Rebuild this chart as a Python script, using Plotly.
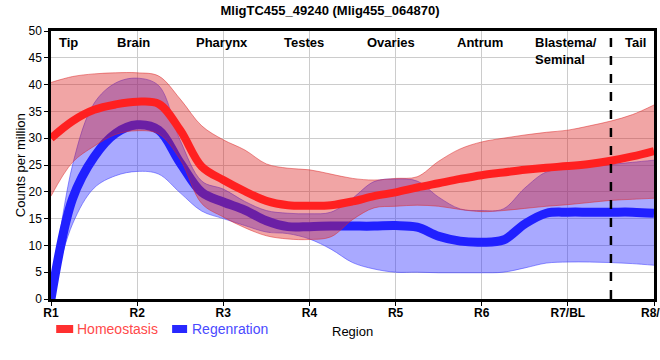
import plotly.graph_objects as go

# positions along body (R1 = 1 ... R8 = 8)
x_pos = [1.0, 1.25, 1.5, 1.75, 2.0, 2.25, 2.5, 2.75, 3.0, 3.25, 3.5, 3.75, 4.0, 4.25, 4.5,
         4.75, 5.0, 5.25, 5.5, 5.75, 6.0, 6.25, 6.5, 6.75, 7.0, 7.25, 7.5, 7.75, 8.0]

homeo_mean = [30.0, 33.2, 35.3, 36.3, 36.8, 36.4, 31.5, 24.7, 22.2, 20.1, 18.3, 17.5, 17.4, 17.5, 18.2,
              19.2, 19.9, 20.8, 21.6, 22.4, 23.1, 23.6, 24.1, 24.5, 24.8, 25.2, 25.8, 26.6, 27.6]
homeo_upper = [40.4, 41.5, 42.0, 42.2, 42.2, 41.6, 37.3, 32.3, 29.7, 27.8, 25.2, 24.4, 24.1, 23.3, 22.5,
               22.2, 22.5, 22.8, 25.7, 28.0, 29.3, 30.0, 30.6, 31.1, 31.5, 32.3, 33.2, 34.4, 36.2]
homeo_lower = [19.2, 25.5, 28.5, 30.7, 31.4, 30.8, 26.0, 17.8, 15.3, 13.3, 11.8, 11.2, 11.1, 11.6, 14.8,
               17.0, 17.3, 17.5, 17.3, 16.7, 16.3, 16.5, 16.9, 17.3, 17.6, 18.0, 18.4, 18.6, 18.8]

regen_mean = [0.0, 18.7, 26.5, 30.9, 32.5, 31.5, 25.4, 19.9, 18.1, 16.6, 14.6, 13.5, 13.5, 13.6, 13.6,
              13.6, 13.7, 13.4, 11.7, 10.8, 10.6, 11.0, 14.0, 16.0, 16.2, 16.2, 16.2, 16.2, 16.0]
regen_upper = [0.0, 25.0, 36.5, 40.3, 41.2, 39.8, 29.6, 22.0, 20.5, 18.2, 16.5, 16.0, 15.9, 16.2, 18.8,
               21.9, 22.4, 22.0, 19.0, 16.8, 16.5, 16.8, 20.7, 23.7, 24.3, 24.7, 25.1, 25.5, 25.9]
regen_lower = [0.0, 14.0, 20.7, 23.0, 23.8, 23.3, 19.8, 16.4, 15.0, 13.7, 12.5, 12.2, 11.2, 9.3, 6.8,
               5.6, 5.0, 5.0, 4.9, 4.9, 4.9, 5.0, 5.8, 6.7, 6.9, 6.9, 6.8, 6.6, 6.3]

tick_vals = [1, 2, 3, 4, 5, 6, 7, 8]
tick_text = ["R1", "R2", "R3", "R4", "R5", "R6", "R7/BL", "R8/T"]

region_names = ["Tip", "Brain", "Pharynx", "Testes", "Ovaries", "Antrum", "Blastema/<br>Seminal", "Tail"]
region_x = [1.2, 1.96, 2.98, 3.94, 4.95, 5.98, 6.6, 7.78]
region_anchor = ["center", "center", "center", "center", "center", "center", "left", "center"]

BOLD = "Liberation Sans, Arial, sans-serif"

fig = go.Figure()

# regeneration band
fig.add_trace(go.Scatter(x=x_pos, y=regen_lower, mode="lines", line=dict(color="rgba(60,60,255,0.55)", width=1, shape="spline"),
                         showlegend=False, hoverinfo="skip"))
fig.add_trace(go.Scatter(x=x_pos, y=regen_upper, mode="lines", line=dict(color="rgba(60,60,255,0.55)", width=1, shape="spline"),
                         fill="tonexty", fillcolor="rgba(40,40,255,0.4)", showlegend=False, hoverinfo="skip"))
fig.add_trace(go.Scatter(x=x_pos, y=regen_mean, mode="lines", line=dict(color="#2020ff", width=9, shape="spline"),
                         name="Regenration", showlegend=False))
# homeostasis band
fig.add_trace(go.Scatter(x=x_pos, y=homeo_lower, mode="lines", line=dict(color="rgba(220,40,40,0.5)", width=1, shape="spline"),
                         showlegend=False, hoverinfo="skip"))
fig.add_trace(go.Scatter(x=x_pos, y=homeo_upper, mode="lines", line=dict(color="rgba(220,40,40,0.5)", width=1, shape="spline"),
                         fill="tonexty", fillcolor="rgba(220,30,30,0.4)", showlegend=False, hoverinfo="skip"))
fig.add_trace(go.Scatter(x=x_pos, y=homeo_mean, mode="lines", line=dict(color="#ff2020", width=8, shape="spline"),
                         name="Homeostasis", showlegend=False))

# dashed divider
fig.add_shape(type="line", xref="x", yref="y", x0=7.5, x1=7.5, y0=0, y1=50,
              line=dict(color="black", width=2.5, dash="dash"), layer="above")

for name, xv, anc in zip(region_names, region_x, region_anchor):
    fig.add_annotation(x=xv, y=49.7, xref="x", yref="y", text="<b>" + name + "</b>", showarrow=False,
                       xanchor=anc, yanchor="top", align="left",
                       font=dict(family=BOLD, size=13, color="black"))

# manual legend
W = 603.4
H = 268.0
def px2x(p):
    return (p - 50.8) / W
def py2y(p):
    return (299 - p) / H

fig.add_shape(type="rect", xref="paper", yref="paper", x0=px2x(56), x1=px2x(73), y0=py2y(333), y1=py2y(325),
              fillcolor="#ff3030", line=dict(width=0))
fig.add_annotation(xref="paper", yref="paper", x=px2x(75), y=py2y(329), text="Homeostasis", showarrow=False,
                   xanchor="left", yanchor="middle", font=dict(family=BOLD, size=14, color="#ff4a4a"))
fig.add_shape(type="rect", xref="paper", yref="paper", x0=px2x(172), x1=px2x(187), y0=py2y(333), y1=py2y(325),
              fillcolor="#2828ff", line=dict(width=0))
fig.add_annotation(xref="paper", yref="paper", x=px2x(190), y=py2y(329), text="Regenration", showarrow=False,
                   xanchor="left", yanchor="middle", font=dict(family=BOLD, size=14, color="#4a4aff"))
fig.add_annotation(xref="paper", yref="paper", x=0.5, y=py2y(331), text="Region", showarrow=False,
                   xanchor="center", yanchor="middle", font=dict(family=BOLD, size=13, color="black"))
fig.add_annotation(xref="paper", yref="paper", x=px2x(20), y=py2y(165), text="Counts per million", showarrow=False,
                   textangle=-90, xanchor="center", yanchor="middle", font=dict(family=BOLD, size=13, color="black"))

fig.update_layout(
    width=660, height=360,
    margin=dict(l=51, r=6, t=31, b=61, autoexpand=False),
    paper_bgcolor="white", plot_bgcolor="white",
    title=dict(text="<b>MligTC455_49240 (Mlig455_064870)</b>", x=0.5, xanchor="center", y=0.972, yanchor="middle",
               font=dict(family=BOLD, size=13, color="black")),
    showlegend=False,
)
fig.update_xaxes(range=[1, 8], tickvals=tick_vals, ticktext=["<b>" + t + "</b>" for t in tick_text],
                 showgrid=True, gridcolor="#cccccc", gridwidth=1,
                 showline=True, linecolor="black", linewidth=2.5, mirror=True,
                 ticks="outside", ticklen=4, tickcolor="black", tickwidth=1, ticklabelstandoff=-3,
                 ticklabeloverflow="allow",
                 tickfont=dict(family=BOLD, size=12, color="black"), zeroline=False, automargin=False)
fig.update_yaxes(range=[0, 50], dtick=5, tick0=0,
                 showgrid=True, gridcolor="#cccccc", gridwidth=1,
                 showline=True, linecolor="black", linewidth=2.5, mirror=True,
                 ticks="outside", ticklen=4, tickcolor="black", tickwidth=1,
                 tickfont=dict(family=BOLD, size=12, color="black"), zeroline=False, automargin=False)

fig.write_html("out.html", config={"displayModeBar": False},
               post_script="document.body.style.margin='0px';document.body.style.padding='0px';")
